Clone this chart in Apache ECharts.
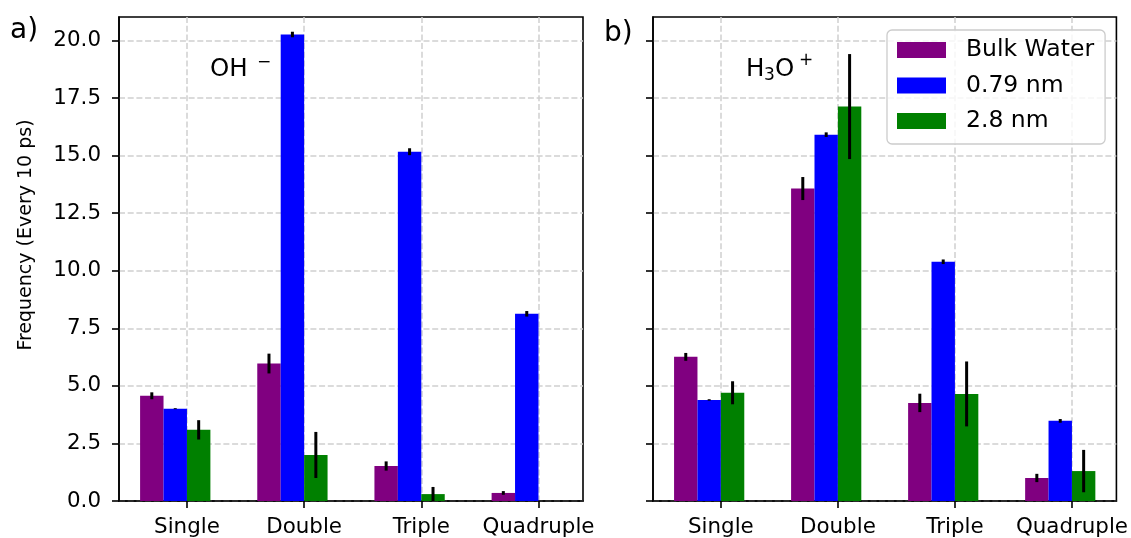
<!DOCTYPE html>
<html>
<head>
<meta charset="utf-8">
<title>Frequency by coordination</title>
<script src="https://cdn.jsdelivr.net/npm/echarts@6/dist/echarts.min.js"></script>
<style>
  html, body { margin: 0; padding: 0; background: #fff; }
  #chart { width: 1131px; height: 538px; }
</style>
</head>
<body>
<div id="chart"></div>
<script>
const categories = ['Single', 'Double', 'Triple', 'Quadruple']
const seriesNames = ['Bulk Water', '0.79 nm', '2.8 nm']
const colors = ['#800080', '#0000ff', '#008000']
const yTicks = [0, 2.5, 5, 7.5, 10, 12.5, 15, 17.5, 20]

// a) OH-
const ohBulk = [4.57, 5.97, 1.52, 0.35]
const ohBulkErr = [0.15, 0.43, 0.2, 0.08]
const ohNarrow = [4.01, 20.26, 15.17, 8.13]
const ohNarrowErr = [0.02, 0.12, 0.15, 0.12]
const ohWide = [3.09, 2.0, 0.3, 0]
const ohWideErr = [0.42, 1.0, 0.31, 0]

// b) H3O+
const hBulk = [6.26, 13.57, 4.26, 1.0]
const hBulkErr = [0.17, 0.5, 0.4, 0.18]
const hNarrow = [4.39, 15.91, 10.39, 3.48]
const hNarrowErr = [0.03, 0.1, 0.1, 0.08]
const hWide = [4.7, 17.13, 4.65, 1.3]
const hWideErr = [0.5, 2.28, 1.41, 0.92]

const FONT = 'DejaVu Sans'
const barOffsets = [-0.3, -0.1, 0.1]
const barWidth = 0.2

const chart = echarts.init(document.getElementById('chart'))

// bar + error bar drawn through the axis scales
const makeSeries = (k, vals, errs, axisIndex) => ({
  type: 'custom',
  name: seriesNames[k],
  xAxisIndex: axisIndex,
  yAxisIndex: axisIndex,
  clip: true,
  itemStyle: { color: colors[k] },
  encode: { x: 0, y: 1 },
  data: vals.map((v, i) => [i, v, errs[i]]),
  renderItem: (params, api) => {
    const x = api.value(0) + barOffsets[k]
    const v = api.value(1)
    const e = api.value(2)
    const p0 = api.coord([x - barWidth / 2, v])
    const p1 = api.coord([x + barWidth / 2, 0])
    const children = [{
      type: 'rect',
      shape: { x: p0[0], y: p0[1], width: p1[0] - p0[0], height: p1[1] - p0[1] },
      style: { fill: colors[k] }
    }]
    if (e > 0) {
      const top = api.coord([x, v + e])
      const bot = api.coord([x, v - e])
      children.push({
        type: 'line',
        shape: { x1: top[0], y1: top[1], x2: bot[0], y2: bot[1] },
        style: { stroke: '#000', lineWidth: 3 }
      })
    }
    return { type: 'group', children }
  }
})

const gridLine = { show: true, lineStyle: { color: '#cfcfcf', width: 1.5, type: [6, 2.7] } }

const makeXAxis = (idx) => ({
  type: 'value',
  gridIndex: idx,
  min: -0.58,
  max: 3.38,
  axisLine: { show: true, onZero: false, lineStyle: { color: '#000', width: 1.6 } },
  axisTick: { show: true, length: 7, customValues: [0, 1, 2, 3], lineStyle: { color: '#000', width: 1.6 } },
  axisLabel: {
    customValues: [0, 1, 2, 3],
    formatter: (v) => categories[Math.round(v)],
    color: '#000', fontFamily: FONT, fontSize: 21.4, margin: 16
  },
  splitLine: gridLine
})

const makeYAxis = (idx, showLabels) => ({
  type: 'value',
  gridIndex: idx,
  min: 0,
  max: 21.02,
  axisLine: { show: true, onZero: false, lineStyle: { color: '#000', width: 1.6 } },
  axisTick: { show: true, length: 7, customValues: yTicks, lineStyle: { color: '#000', width: 1.6 } },
  axisLabel: {
    show: showLabels,
    customValues: yTicks,
    formatter: (v) => v.toFixed(1),
    color: '#000', fontFamily: FONT, fontSize: 21.4, margin: 18
  },
  splitLine: gridLine
})

chart.setOption({
  animation: false,
  backgroundColor: '#fff',
  grid: [
    { left: 119, right: 548, top: 17, bottom: 37, show: true, borderColor: '#000', borderWidth: 1.6 },
    { left: 653, right: 12, top: 17, bottom: 37, show: true, borderColor: '#000', borderWidth: 1.6 }
  ],
  xAxis: [makeXAxis(0), makeXAxis(1)],
  yAxis: [makeYAxis(0, true), makeYAxis(1, false)],
  legend: {
    data: seriesNames,
    orient: 'vertical',
    left: 887,
    top: 30,
    itemWidth: 49,
    itemHeight: 16,
    itemGap: 11.5,
    icon: 'rect',
    padding: [8, 11, 11, 10],
    backgroundColor: 'rgba(255,255,255,0.8)',
    borderColor: '#cccccc',
    borderWidth: 1.3,
    borderRadius: 5,
    textStyle: { color: '#000', fontFamily: FONT, fontSize: 23.5, lineHeight: 24, padding: [0, 0, 0, 15] }
  },
  graphic: [
    { type: 'text', left: 10, top: 17, style: { text: 'a)', font: '28px "DejaVu Sans"', fill: '#000' } },
    { type: 'text', left: 604, top: 20, style: { text: 'b)', font: '28px "DejaVu Sans"', fill: '#000' } },
    { type: 'text', x: 26, y: 235, rotation: Math.PI / 2,
      style: { text: 'Frequency (Every 10 ps)', font: '19px "DejaVu Sans"', fill: '#000', align: 'center', verticalAlign: 'middle' } },
    { type: 'text', x: 210, y: 70, style: { text: 'OH', font: '24.5px "DejaVu Sans"', fill: '#000', verticalAlign: 'middle' } },
    { type: 'text', x: 257, y: 62.5, style: { text: '\u2212', font: '17px "DejaVu Sans"', fill: '#000', verticalAlign: 'middle' } },
    { type: 'text', x: 746, y: 70, style: { text: 'H', font: '24.5px "DejaVu Sans"', fill: '#000', verticalAlign: 'middle' } },
    { type: 'text', x: 764, y: 76, style: { text: '3', font: '17px "DejaVu Sans"', fill: '#000', verticalAlign: 'middle' } },
    { type: 'text', x: 775, y: 70, style: { text: 'O', font: '24.5px "DejaVu Sans"', fill: '#000', verticalAlign: 'middle' } },
    { type: 'text', x: 799, y: 60.5, style: { text: '+', font: '17px "DejaVu Sans"', fill: '#000', verticalAlign: 'middle' } }
  ],
  series: [
    makeSeries(0, ohBulk, ohBulkErr, 0),
    makeSeries(1, ohNarrow, ohNarrowErr, 0),
    makeSeries(2, ohWide, ohWideErr, 0),
    makeSeries(0, hBulk, hBulkErr, 1),
    makeSeries(1, hNarrow, hNarrowErr, 1),
    makeSeries(2, hWide, hWideErr, 1)
  ]
})
</script>
</body>
</html>
